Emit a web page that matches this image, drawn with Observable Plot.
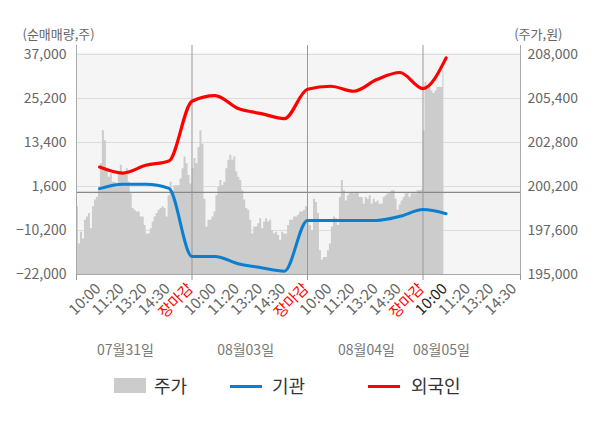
<!DOCTYPE html>
<html><head><meta charset="utf-8">
<script src="https://cdn.jsdelivr.net/npm/d3@7"></script>
<script src="https://cdn.jsdelivr.net/npm/@observablehq/plot@0.6"></script>
<style>
body{margin:0;background:#fff;font-family:"Noto Sans CJK KR","Noto Sans",sans-serif;}
#wrap{width:600px;position:relative;}
#legend{position:relative;height:60px;font-size:18px;color:#333;}
#legend div{position:absolute;}
</style></head><body>
<div id="wrap"><div id="chart"></div>
<div id="legend">
  <div style="left:114px;top:10px;width:32px;height:15px;background:#cccccc"></div>
  <div style="left:154px;top:4px;line-height:26px">주가</div>
  <div style="left:230px;top:16.5px;width:32px;height:3px;background:#0a7fd0"></div>
  <div style="left:272px;top:4px;line-height:26px">기관</div>
  <div style="left:368px;top:16.5px;width:32px;height:3px;background:#ff0000"></div>
  <div style="left:411px;top:4px;line-height:26px">외국인</div>
</div></div>
<script>
const timeLabels = ["10:00","11:20","13:20","14:30","장마감","10:00","11:20","13:20","14:30","장마감","10:00","11:20","13:20","14:30","장마감","10:00","11:20","13:20","14:30"];
const foreign = [6820, 5210, 7280, 8430, 24460, 25990, 22500, 21160, 19810, 27680, 28490, 27150, 30290, 32170, 27870, 36090];
const institution = [1030, 2180, 2180, 1100, -17160, -17160, -19120, -20190, -21100, -7490, -7490, -7490, -7490, -6400, -4600, -5690];
const priceDay1 = [199000,196800,197500,197100,198200,198400,198600,197700,199000,199400,199550,200150,201550,203500,202900,201250,200750,200950,200450,200450,200150,200950,201450,200950,200950,201250,200450,199750,198900,198800,198700,198700,198400,198400,197900,197400,197400,197700,198100,198400,198600,198800,198900,199000,198900,198400,199650,200450,199950,200250,200250,200250,200650,201250,201950,201550,200850,200350];
const priceDay2 = [201250,201850,201550,202500,203500,202700,199450,197800,198200,198200,198400,198700,199650,200150,200550,200250,200450,201250,201750,202050,201750,201950,201050,200750,200550,199950,199400,198900,198800,198200,197400,197800,197800,198000,198300,197700,198100,198300,198100,198200,197600,197400,197500,197300,197000,197500,197400,197400,197900,198200,198200,198400,198400,198500,198700,198700,198800,199000];
const priceDay3 = [198200,197900,197600,199450,199250,198600,196400,195850,196000,196000,196400,196800,197800,198400,198300,197900,199550,200550,199950,199350,199650,199850,199850,199750,199850,199850,199550,199550,199150,199550,199450,199650,199150,199450,199250,199350,199150,199150,199550,199650,199750,199850,199950,199950,199450,198800,199100,199350,199550,199750,199850,199550,199750,199850,199750,199950,199950,200000];
const priceDay4 = [203500,206350,206050,206250,205850,205700,205850,206050,206050,206050,207050];
const leftTicks = [37000, 25200, 13400, 1600, -10200, -22000];
const priceTicks = [208000, 205400, 202800, 200200, 197600, 195000];
const dateLabels = ["07월31일","08월03일","08월04일","08월05일"];
const dateSlots = [2.12, 7.32, 12.55, 15.8];

const SLOTS_PER_DAY = 5, PTS_PER_DAY = 58, X_MAX = 19.22;
const L0 = leftTicks[leftTicks.length-1], L1 = leftTicks[0];
const P0 = priceTicks[priceTicks.length-1], P1 = priceTicks[0];
const toLeft = p => L0 + (p - P0) * (L1 - L0) / (P1 - P0);
const toPrice = v => P0 + (v - L0) * (P1 - P0) / (L1 - L0);
const fmt = d3.format(",");

const priceRows = [priceDay1, priceDay2, priceDay3, priceDay4].flatMap((arr, d) =>
  arr.map((p, i) => ({x: d * SLOTS_PER_DAY + (i + 0.5) * SLOTS_PER_DAY / PTS_PER_DAY, v: toLeft(p)})));
const forRows = foreign.map((v, i) => ({x: i + 1, v}));
const instRows = institution.map((v, i) => ({x: i + 1, v}));
const timeRows = timeLabels.map((label, i) => ({x: i + 1, label,
  color: label === "장마감" ? "#ff0000" : (i === 15 ? "#222" : "#666")}));
const dateRows = dateLabels.map((label, i) => ({x: dateSlots[i], label}));
const dayBounds = [1, 2, 3].map(d => d * SLOTS_PER_DAY);

const chart = Plot.plot({
  width: 600, height: 368,
  marginLeft: 76, marginRight: 80, marginTop: 54, marginBottom: 94,
  x: {domain: [0, X_MAX], axis: null},
  y: {domain: [L0, L1], axis: null},
  style: {fontFamily: '"Noto Sans CJK KR","Noto Sans",sans-serif', fontSize: "14px", background: "#fff", overflow: "visible"},
  marks: [
    Plot.frame({fill: "#f5f5f5", stroke: null, insetTop: -2}),
    Plot.gridY(leftTicks, {stroke: "#dcdcdc", strokeOpacity: 1}),
    Plot.areaY(priceRows, {x: "x", y1: L0, y2: "v", fill: "#cccccc", curve: "step"}),
    Plot.ruleY([0], {stroke: "#888", strokeWidth: 1.2}),
    Plot.ruleX(dayBounds, {stroke: "#999", insetTop: -9}),
    Plot.ruleX([0, X_MAX], {stroke: "#aaa", insetTop: -9}),
    Plot.ruleY([L0], {stroke: "#aaa"}),
    Plot.axisX([0, ...dayBounds, X_MAX], {tickSize: 6, tickFormat: () => "", stroke: "#999", label: null}),
    Plot.axisY(leftTicks, {anchor: "left", tickSize: 0, tickPadding: 10, tickFormat: fmt, fill: "#666", fontSize: 14, label: null}),
    Plot.axisY(leftTicks, {anchor: "right", tickSize: 0, tickPadding: 7, tickFormat: v => fmt(Math.round(toPrice(v) / 100) * 100), fill: "#666", fontSize: 14, label: null}),
    Plot.text(timeRows, {x: "x", text: "label", frameAnchor: "bottom", rotate: -45, textAnchor: "end", dy: 15, dx: 2, fill: "color", fontSize: 15}),
    Plot.text(dateRows, {x: "x", text: "label", frameAnchor: "bottom", dy: 80, fill: "#777", fontSize: 14}),
    Plot.line(instRows, {x: "x", y: "v", stroke: "#0a7fd0", strokeWidth: 3, curve: "monotone-x"}),
    Plot.line(forRows, {x: "x", y: "v", stroke: "#ff0000", strokeWidth: 3.2, curve: "monotone-x"}),
    Plot.text(["(순매매량,주)"], {text: d => d, frameAnchor: "top-left", textAnchor: "start", dx: -54, dy: -25, fill: "#666", fontSize: 13}),
    Plot.text(["(주가,원)"], {text: d => d, frameAnchor: "top-right", textAnchor: "end", dx: 42, dy: -25, fill: "#666", fontSize: 13})
  ]
});
document.getElementById("chart").appendChild(chart);
</script>
</body></html>
